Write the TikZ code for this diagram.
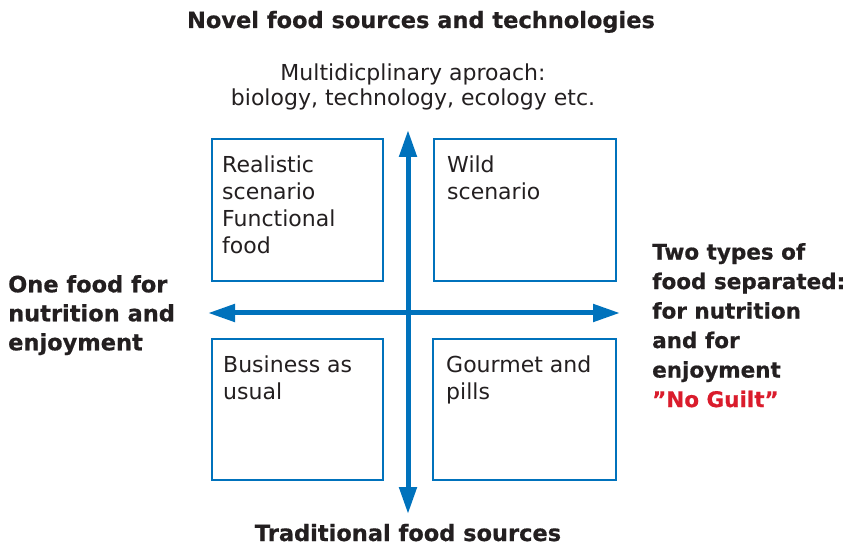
\documentclass[tikz,border=0pt]{standalone}
\usepackage{fontspec}
\setmainfont{DejaVu Sans}[BoldFeatures = {FakeBold = 0.6}]
\usetikzlibrary{arrows.meta, positioning}

\definecolor{axisblue}{RGB}{0,114,188}
\definecolor{guiltred}{RGB}{218,28,44}
\definecolor{inkgray}{RGB}{35,31,32}

\begin{document}
\begin{tikzpicture}[x=1pt, y=-1pt, text = inkgray,
		box/.style = {draw = axisblue, line width = 1.7pt, inner sep = 0pt, anchor = north west},
		boxtext/.style = {inner sep = 0pt, align = left, font = \fontsize{22}{27}\selectfont},
		heading/.style = {inner sep = 0pt, font = \fontsize{22.5}{29}\selectfont\bfseries},
		axis/.style = {axisblue, line width = 5pt, {Triangle[length = 27pt, width = 17pt]}-{Triangle[length = 27pt, width = 17pt]}}]
		
		\useasboundingbox (0,0) rectangle (852,545);
		
		\coordinate (top) at (408,130);
		\coordinate (bottom) at (408,514);
		\coordinate (left) at (208,313);
		\coordinate (right) at (620,313);
		
		% quadrants
		\begin{scope}
			\node [box, minimum width = 171pt, minimum height = 142pt] (realistic) at (211,138) {};
			\node [box, minimum width = 182pt, minimum height = 142pt] (wild) at (433,138) {};
			\node [box, minimum width = 171pt, minimum height = 141pt] (business) at (211,338) {};
			\node [box, minimum width = 183pt, minimum height = 141pt] (gourmet) at (432,338) {};
		\end{scope}
		
		\begin{scope}[boxtext]
			\node [below right = 18pt and 11pt of realistic.north west] (realistictext) {Realistic\\scenario\\Functional\\food};
			\node [below right = 18pt and 14pt of wild.north west] (wildtext) {Wild\\scenario};
			\node [below right = 18pt and 12pt of business.north west] (businesstext) {Business as\\usual};
			\node [below right = 18pt and 14pt of gourmet.north west] (gourmettext) {Gourmet and\\pills};
		\end{scope}
		
		% axes
		\draw [axis] (bottom) -- (top);
		\draw [axis] (left) -- (right);
		
		\begin{scope}[heading]
			\node [anchor = base] (novel) at (421,28) {Novel food sources and technologies};
			\node [anchor = base] (traditional) at (408,541) {Traditional food sources};
			\node [anchor = north west, align = left] (onefood) at (8,275) {One food for\\nutrition and\\enjoyment};
			\node [anchor = north west, align = left, font = \fontsize{21.5}{29.5}\selectfont\bfseries] (twotypes) at (652,243) {Two types of\\food separated:\\for nutrition\\and for\\enjoyment\\\textcolor{guiltred}{”No Guilt”}};
		\end{scope}
		
		\node [boxtext, anchor = north, align = center, font = \fontsize{22}{25}\selectfont] (approach) at (413,64) {Multidicplinary aproach:\\biology, technology, ecology etc.};
	\end{tikzpicture}
\end{document}
